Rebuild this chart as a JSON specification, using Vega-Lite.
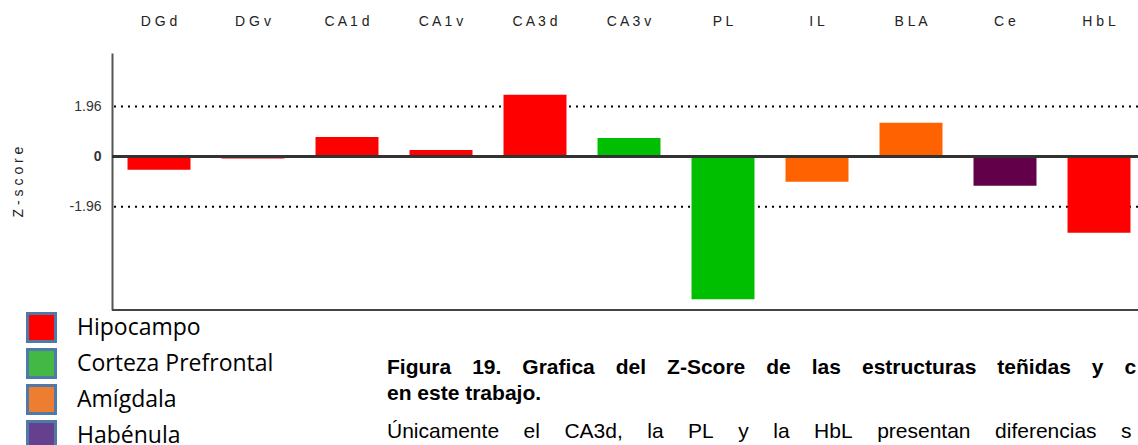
{
  "$schema": "https://vega.github.io/schema/vega-lite/v6.json",
  "autosize": "none",
  "width": 1026,
  "height": 257,
  "padding": {"left": 112, "top": 53, "right": 0, "bottom": 135},
  "background": "white",
  "config": {
    "view": {"stroke": null},
    "font": "Liberation Sans"
  },
  "title": {
    "text": ["Figura\u200319.\u2003Grafica\u2003del\u2003Z-Score\u2003de\u2003las\u2003estructuras\u2003teñidas\u2003y\u2003c", "en este trabajo."],
    "subtitle": "Únicamente\u2003\u2006el\u2003\u2006CA3d,\u2003\u2006la\u2003\u2006PL\u2003\u2006y\u2003\u2006la\u2003\u2006HbL\u2003\u2006presentan\u2003\u2006diferencias\u2003\u2006s",
    "orient": "bottom",
    "anchor": "start",
    "frame": "group",
    "dx": 275,
    "offset": -99,
    "font": "Liberation Sans",
    "fontSize": 21,
    "fontWeight": "bold",
    "lineHeight": 26,
    "color": "#000000",
    "subtitleFont": "Liberation Sans",
    "subtitleFontSize": 21,
    "subtitleFontWeight": "normal",
    "subtitleColor": "#000000",
    "subtitlePadding": 17,
    "limit": 2000
  },
  "datasets": {
    "zscores": [
      {"estructura": "DGd", "z": -0.52, "grupo": "Hipocampo"},
      {"estructura": "DGv", "z": -0.08, "grupo": "Hipocampo"},
      {"estructura": "CA1d", "z": 0.77, "grupo": "Hipocampo"},
      {"estructura": "CA1v", "z": 0.26, "grupo": "Hipocampo"},
      {"estructura": "CA3d", "z": 2.42, "grupo": "Hipocampo"},
      {"estructura": "CA3v", "z": 0.73, "grupo": "Corteza Prefrontal"},
      {"estructura": "PL", "z": -5.58, "grupo": "Corteza Prefrontal"},
      {"estructura": "IL", "z": -0.98, "grupo": "Amígdala"},
      {"estructura": "BLA", "z": 1.32, "grupo": "Amígdala"},
      {"estructura": "Ce", "z": -1.14, "grupo": "Habénula"},
      {"estructura": "HbL", "z": -2.98, "grupo": "Hipocampo"}
    ],
    "umbrales": [{"z": 1.96}, {"z": -1.96}]
  },
  "data": {"name": "zscores"},
  "resolve": {"scale": {"fill": "independent"}},
  "layer": [
    {
      "data": {"name": "umbrales"},
      "mark": {"type": "rule", "color": "#000000", "strokeWidth": 2, "strokeDash": [2, 5]},
      "encoding": {
        "y": {"field": "z", "type": "quantitative"}
      }
    },
    {
      "mark": {"type": "bar"},
      "encoding": {
        "x": {
          "field": "estructura",
          "type": "nominal",
          "sort": null,
          "scale": {"paddingInner": 0.33, "paddingOuter": 0.1225, "align": 0.674},
          "axis": {
            "orient": "top",
            "title": null,
            "domain": false,
            "ticks": false,
            "labelAngle": 0,
            "labelFont": "Liberation Sans",
            "labelFontSize": 14,
            "labelColor": "#222222",
            "labelPadding": 25,
            "labelExpr": "join(split(datum.label, ''), ' ')"
          }
        },
        "y": {
          "field": "z",
          "type": "quantitative",
          "scale": {"domain": [-6, 4.05], "nice": false, "zero": false},
          "axis": {
            "title": "Z - s c o r e",
            "titleFont": "Liberation Sans",
            "titleFontSize": 14,
            "titleFontWeight": "normal",
            "titleColor": "#222222",
            "titlePadding": 44,
            "values": [-1.96, 0, 1.96],
            "labelExpr": "datum.value > 0 ? '1.96' : (datum.value < 0 ? '-1.96' : '0')",
            "labelFont": "Liberation Sans",
            "labelFontSize": 14,
            "labelColor": "#333333",
            "labelFontWeight": {"condition": {"test": "datum.value === 0", "value": "bold"}, "value": "normal"},
            "labelPadding": 11,
            "ticks": false,
            "grid": false,
            "domainColor": "#555555",
            "domainWidth": 2
          }
        },
        "fill": {
          "field": "grupo",
          "type": "nominal",
          "scale": {
            "domain": ["Hipocampo", "Corteza Prefrontal", "Amígdala", "Habénula"],
            "range": ["#FF0000", "#00BF00", "#FF6200", "#62004A"]
          },
          "legend": null
        }
      }
    },
    {
      "mark": {"type": "square", "opacity": 0},
      "encoding": {
        "x": {"field": "estructura", "type": "nominal", "sort": null},
        "y": {"field": "z", "type": "quantitative"},
        "fill": {
          "field": "grupo",
          "type": "nominal",
          "scale": {
            "domain": ["Hipocampo", "Corteza Prefrontal", "Amígdala", "Habénula"],
            "range": ["#FF0000", "#44B844", "#ED7D31", "#65408F"]
          },
          "legend": {
            "orient": "none",
            "legendX": -86,
            "legendY": 259,
            "title": null,
            "padding": 0,
            "symbolType": "square",
            "symbolSize": 784,
            "symbolStrokeColor": "#4F79A8",
            "symbolStrokeWidth": 3,
            "symbolOpacity": 1,
            "labelFont": "Open Sans",
            "labelFontSize": 23,
            "labelColor": "#000000",
            "labelOffset": 20,
            "rowPadding": -15,
            "labelLimit": 400
          }
        }
      }
    },
    {
      "mark": {"type": "rule", "color": "#333333", "strokeWidth": 2},
      "encoding": {"y": {"datum": 0}}
    },
    {
      "mark": {"type": "rule", "color": "#444444", "strokeWidth": 2},
      "encoding": {"y": {"datum": -6}}
    }
  ]
}
